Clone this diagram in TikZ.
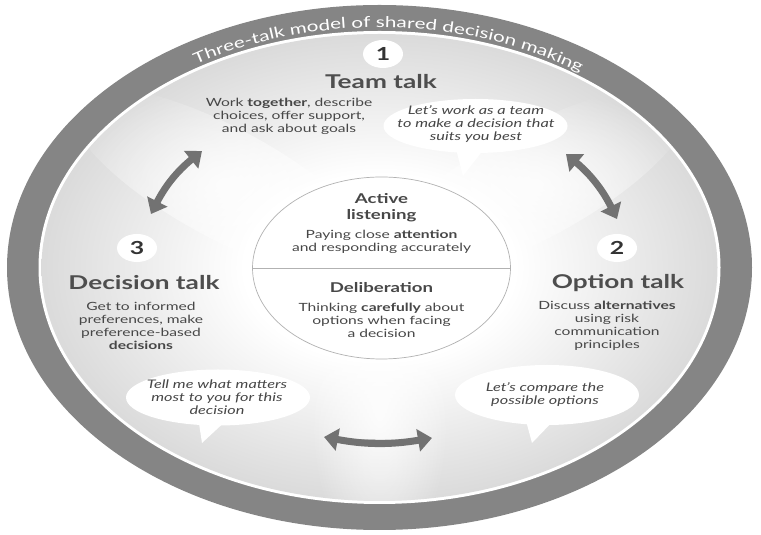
\documentclass[tikz,border=0pt]{standalone}
\usepackage{fontspec}
\setmainfont{Lato}[FakeStretch=1.38]
\usetikzlibrary{arrows.meta,decorations.text,fadings,shapes.geometric}
\definecolor{ringgray}{HTML}{858585}
\definecolor{shadegray}{HTML}{939393}
\definecolor{arrowgray}{HTML}{727272}
\definecolor{headgray}{HTML}{4E4E4E}
\definecolor{bodygray}{HTML}{474747}
\pgfdeclareradialshading{innershade}{\pgfpoint{0bp}{0bp}}{color(0bp)=(white); color(10bp)=(white); color(30bp)=(shadegray!45!white); color(50bp)=(shadegray)}
\tikzfading[name=rayfade, inner color=transparent!0, outer color=transparent!100]
\begin{document}
\begin{tikzpicture}[x=1pt,y=1pt,
  numdisc/.style={ellipse, fill=white, minimum width=40pt, minimum height=28pt, inner sep=0pt, font=\bfseries\fontsize{18}{18}\selectfont, text=black!80},
  heading/.style={font=\bfseries\fontsize{19}{22}\selectfont, text=headgray},
  body/.style={align=center, font=\fontsize{11.3}{13}\selectfont, text=bodygray, inner sep=0pt},
  quote/.style={align=center, font=\itshape\fontsize{11.8}{13}\selectfont, text=bodygray, inner sep=0pt},
  corehead/.style={align=center, font=\bfseries\fontsize{13.5}{16}\selectfont, text=bodygray, inner sep=0pt},
  bubble/.style={fill=white},
  cycarrow/.style={draw=arrowgray, fill=arrowgray, line width=7pt, {Triangle[width=22pt,length=14pt]}-{Triangle[width=22pt,length=14pt]}},
]
\useasboundingbox (0,0) rectangle (761,535);
\coordinate (C) at (379.5,267.5);
% rings
\fill[ringgray] (C) ellipse [x radius=372.5pt, y radius=262.5pt];
\fill[white] (C) ellipse [x radius=341pt, y radius=236.5pt];
\shade[shading=innershade] (C) ellipse [x radius=338pt, y radius=233.5pt];
% light rays
\begin{scope}
  \clip (C) ellipse [x radius=338pt, y radius=233.5pt];
  \begin{scope}[shift={(C)}, rotate=151.5]
    \fill[white, opacity=0.8, path fading=rayfade] (175,0) ellipse [x radius=175pt, y radius=55pt];
  \end{scope}
  \begin{scope}[shift={(C)}, rotate=28.5]
    \fill[white, opacity=0.8, path fading=rayfade] (175,0) ellipse [x radius=175pt, y radius=55pt];
  \end{scope}
  \begin{scope}[shift={(C)}, rotate=270]
    \fill[white, opacity=0.85, path fading=rayfade] (145,0) ellipse [x radius=145pt, y radius=70pt];
  \end{scope}
\end{scope}
% curved title
\path[decorate, decoration={text along path, text align=center,
  text={|\fontsize{15}{15}\selectfont\color{white}|Three-talk model of shared decision making}}]
  (C) ++(148:344pt and 240pt) arc[start angle=148, end angle=28, x radius=344pt, y radius=240pt];
% centre disc
\node[ellipse, draw=black!30, line width=0.7pt, fill=white, fill opacity=0.85, minimum width=258pt, minimum height=182pt, inner sep=0pt] (core) at (381.5,267) {};
\draw[black!30, line width=0.7pt] (core.west) -- (core.east);
\node[corehead] (al) at (381.5,327) {Active\\listening};
\node[body] (alt) at (381.5,293.5) {Paying close \textbf{attention}\\and responding accurately};
\node[corehead] (de) at (381.5,247) {Deliberation};
\node[body] (det) at (381.5,215) {Thinking \textbf{carefully} about\\options when facing\\a decision};
% team talk
\node[numdisc] (n1) at (383,481) {1};
\node[heading] (h1) at (381,453) {Team talk};
\node[body] (t1) at (289,419) {Work \textbf{together}, describe\\choices, offer support,\\and ask about goals};
% option talk
\node[numdisc] (n2) at (617,287) {2};
\node[heading] (h2) at (618,252) {Option talk};
\node[body] (t2) at (607,209.5) {Discuss \textbf{alternatives}\\using risk\\communication\\principles};
% decision talk
\node[numdisc] (n3) at (137,287) {3};
\node[heading] (h3) at (144,252) {Decision talk};
\node[body] (t3) at (141,209.5) {Get to informed\\preferences, make\\preference-based\\\textbf{decisions}};
% bubbles
\fill[bubble] (475.5,409) ellipse [x radius=92pt, y radius=27pt];
\coordinate (q1a) at (455,390); \coordinate (q1b) at (487,390); \coordinate (q1t) at (463,359);
\fill[bubble] (q1a) -- (q1t) -- (q1b) -- cycle;
\node[quote] (q1) at (476,411) {Let's work as a team\\to make a decision that\\suits you best};
\fill[bubble] (218,137.5) ellipse [x radius=92pt, y radius=28pt];
\coordinate (q3a) at (198,118); \coordinate (q3b) at (230,118); \coordinate (q3t) at (202,92);
\fill[bubble] (q3a) -- (q3t) -- (q3b) -- cycle;
\node[quote] (q3) at (217,138) {Tell me what matters\\most to you for this\\decision};
\fill[bubble] (547,140) ellipse [x radius=92pt, y radius=30pt];
\coordinate (q2a) at (525,118); \coordinate (q2b) at (557,118); \coordinate (q2t) at (532,92);
\fill[bubble] (q2a) -- (q2t) -- (q2b) -- cycle;
\node[quote] (q2) at (545,140) {Let's compare the\\possible options};
% arrows
\coordinate (a1s) at (151,321); \coordinate (a1e) at (202,384);
\draw[cycarrow] (a1s) to[bend left=12] (a1e);
\coordinate (a2s) at (566,381); \coordinate (a2e) at (617,316);
\draw[cycarrow] (a2s) to[bend left=12] (a2e);
\coordinate (a3s) at (324,98); \coordinate (a3e) at (432,97);
\draw[cycarrow] (a3s) to[bend right=10] (a3e);
\end{tikzpicture}
\end{document}
